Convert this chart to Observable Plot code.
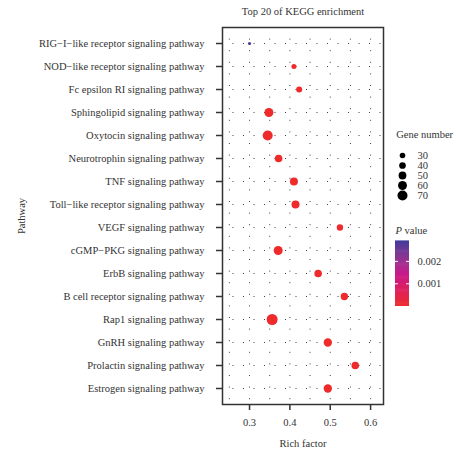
<!DOCTYPE html>
<html>
<head>
<meta charset="utf-8">
<script src="https://cdn.jsdelivr.net/npm/d3@7"></script>
<script src="https://cdn.jsdelivr.net/npm/@observablehq/plot@0.6"></script>
<style>
  html, body { margin: 0; padding: 0; background: #fff; }
  #wrap { position: relative; width: 456px; height: 451px; overflow: hidden; }
  #wrap > div, #wrap > svg { position: absolute; }
</style>
</head>
<body>
<div id="wrap"></div>
<script>
const title = "Top 20 of KEGG enrichment";
const pathways = [
  "RIG\u2212I\u2212like receptor signaling pathway",
  "NOD\u2212like receptor signaling pathway",
  "Fc epsilon RI signaling pathway",
  "Sphingolipid signaling pathway",
  "Oxytocin signaling pathway",
  "Neurotrophin signaling pathway",
  "TNF signaling pathway",
  "Toll\u2212like receptor signaling pathway",
  "VEGF signaling pathway",
  "cGMP\u2212PKG signaling pathway",
  "ErbB signaling pathway",
  "B cell receptor signaling pathway",
  "Rap1 signaling pathway",
  "GnRH signaling pathway",
  "Prolactin signaling pathway",
  "Estrogen signaling pathway"
];
const richFactor = [0.300, 0.410, 0.423, 0.348, 0.345, 0.372, 0.410, 0.414, 0.524, 0.371, 0.470, 0.535, 0.356, 0.494, 0.562, 0.494];
const geneCount  = [8, 25, 34, 61, 70, 48, 52, 52, 37, 61, 48, 46, 79, 55, 48, 55];
const pValue     = [0.0028, 0.00002, 0.00002, 0.00001, 0.00001, 0.00001, 0.00001, 0.00001, 0.00002, 0.00001, 0.00001, 0.00001, 0.00001, 0.00001, 0.00001, 0.00001];
const xTicks = [0.3, 0.4, 0.5, 0.6];
const xGrid = [0.25, 0.3, 0.35, 0.4, 0.45, 0.5, 0.55, 0.6];
const sizeTicks = [30, 40, 50, 60, 70];
const colorTicks = [0.001, 0.002];

const data = pathways.map((p, i) => ({pathway: p, rich: richFactor[i], count: geneCount[i], p: pValue[i]}));

const font = "'Liberation Serif', 'DejaVu Serif', serif";
const rScale = {type: "linear", domain: [30, 70], range: [2.8, 5]};
const colorScale = {type: "linear", domain: [0, 0.00145, 0.0029], range: ["#ee2a2a", "#c8188c", "#3e3a9a"], interpolate: d3.interpolateLab};
const gridStyle = {stroke: "#000", strokeOpacity: 0.75, strokeWidth: 1};

const main = Plot.plot({
  width: 456, height: 451,
  marginLeft: 222, marginRight: 73, marginTop: 27, marginBottom: 47,
  style: {fontFamily: font, fontSize: "10.5px", color: "#333", background: "transparent"},
  x: {domain: [0.233, 0.632]},
  y: {type: "point", domain: pathways, padding: 0.6},
  r: rScale,
  color: colorScale,
  marks: [
    Plot.ruleX(xGrid, {...gridStyle, strokeDasharray: "1,10.6"}),
    Plot.ruleY(pathways, {...gridStyle, strokeDasharray: "1,9.5"}),
    Plot.dot(data, {x: "rich", y: "pathway", r: "count", fill: "p", stroke: null}),
    Plot.frame({stroke: "#333", strokeWidth: 1.5}),
    Plot.axisX({ticks: xTicks, tickFormat: d3.format(".1f"), tickSize: 6, tickPadding: 8, strokeWidth: 1.5,
      label: "Rich factor", labelAnchor: "center", labelArrow: "none", labelOffset: 42}),
    Plot.axisY({tickSize: 6, tickPadding: 12, strokeWidth: 1.5,
      label: "Pathway", labelAnchor: "center", labelArrow: "none", labelOffset: 205}),
    Plot.text([title], {frameAnchor: "top", dy: -16, lineAnchor: "middle", fontSize: 10.5, fill: "#333"})
  ]
});
main.style.left = "0px"; main.style.top = "0px";
document.getElementById("wrap").appendChild(main);

const sizeLegend = Plot.plot({
  width: 73, height: 95, margin: 0,
  style: {fontFamily: font, fontSize: "10.5px", color: "#333", background: "transparent", overflow: "visible"},
  y: {type: "point", domain: sizeTicks, range: [30, 80.7], axis: null},
  r: rScale,
  marks: [
    Plot.text(["Gene number"], {frameAnchor: "top-left", dx: 12.7, dy: 14, lineAnchor: "middle", textAnchor: "start", fill: "#333"}),
    Plot.dot(sizeTicks, {y: d => d, r: d => d, fill: "#000", stroke: null, frameAnchor: "left", dx: 19}),
    Plot.text(sizeTicks, {y: d => d, text: d => String(d), frameAnchor: "left", dx: 34, textAnchor: "start", fill: "#333"})
  ]
});
sizeLegend.style.left = "383px"; sizeLegend.style.top = "120px";
document.getElementById("wrap").appendChild(sizeLegend);

const cDom = [colorScale.domain[0], colorScale.domain[colorScale.domain.length - 1]];
const nBins = 60;
const bins = d3.range(nBins).map(i => ({y1: cDom[0] + (cDom[1] - cDom[0]) * i / nBins, y2: cDom[0] + (cDom[1] - cDom[0]) * (i + 1) / nBins}));
const colorLegend = Plot.plot({
  width: 73, height: 95,
  marginLeft: 12, marginRight: 47, marginTop: 0, marginBottom: 0,
  style: {fontFamily: font, fontSize: "10.5px", color: "#333", background: "transparent", overflow: "visible"},
  y: {domain: cDom, range: [83.7, 18.7], axis: null},
  color: colorScale,
  marks: [
    Plot.text(["P"], {frameAnchor: "top-left", dx: 0, dy: 8, lineAnchor: "middle", textAnchor: "start", fontStyle: "italic", fill: "#333"}),
    Plot.text(["value"], {frameAnchor: "top-left", dx: 9, dy: 8, lineAnchor: "middle", textAnchor: "start", fill: "#333"}),
    Plot.rect(bins, {y1: "y1", y2: "y2", fill: d => (d.y1 + d.y2) / 2, insetTop: -0.3, insetBottom: -0.3}),
    Plot.tickY(colorTicks, {y: d => d, stroke: "#fff", strokeWidth: 1, insetRight: 11}),
    Plot.tickY(colorTicks, {y: d => d, stroke: "#fff", strokeWidth: 1, insetLeft: 11}),
    Plot.text(colorTicks, {y: d => d, text: d => d3.format(".3f")(d), frameAnchor: "right", dx: 8, textAnchor: "start", fill: "#333"})
  ]
});
colorLegend.style.left = "383px"; colorLegend.style.top = "222px";
document.getElementById("wrap").appendChild(colorLegend);
</script>
</body>
</html>
